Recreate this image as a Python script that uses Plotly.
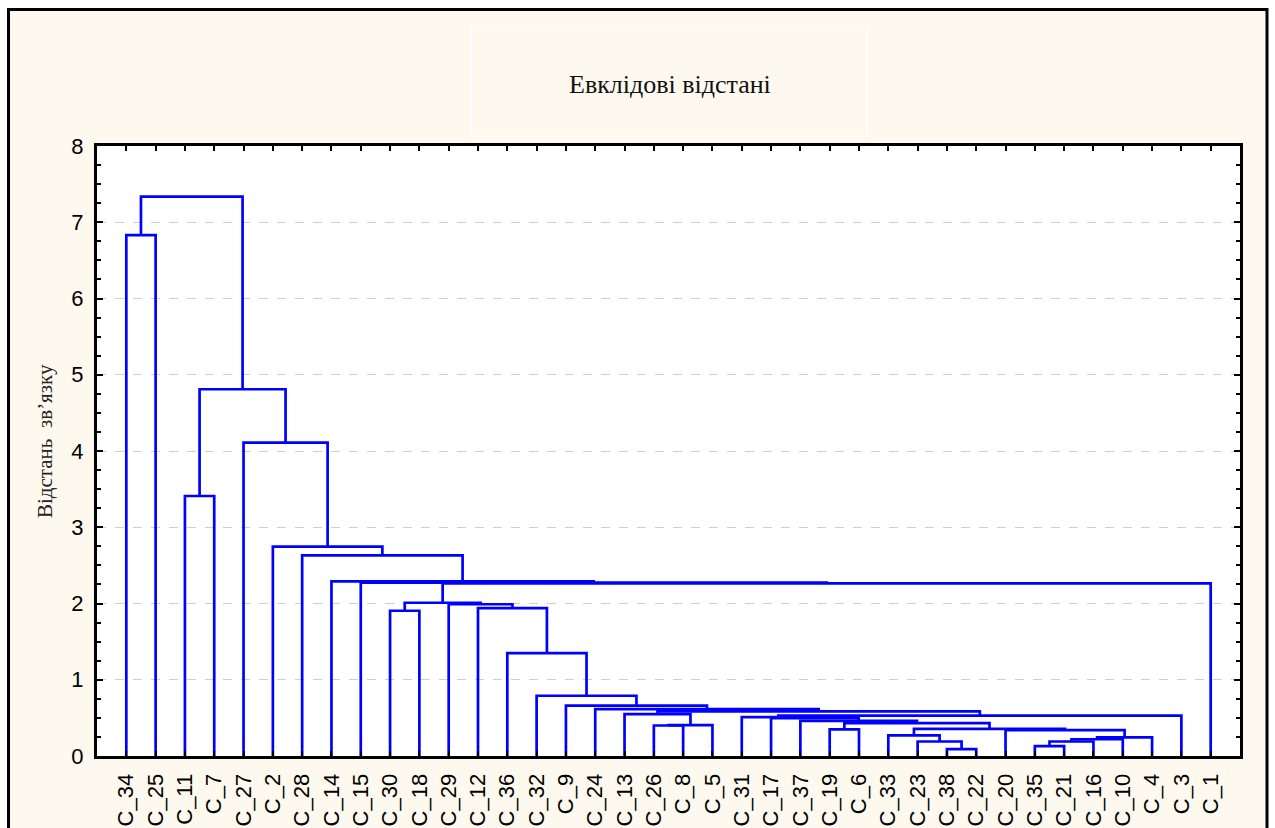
import plotly.graph_objects as go

# ---- data ----
leaf_labels = ["C_34", "C_25", "C_11", "C_7", "C_27", "C_2", "C_28", "C_14", "C_15",
               "C_30", "C_18", "C_29", "C_12", "C_36", "C_32", "C_9", "C_24", "C_13",
               "C_26", "C_8", "C_5", "C_31", "C_17", "C_37", "C_19", "C_6", "C_33",
               "C_23", "C_38", "C_22", "C_20", "C_35", "C_21", "C_16", "C_10", "C_4",
               "C_3", "C_1"]

# merges: children are leaf names or "#k" (k-th merge, 1-based)
merge_left = ["C_35", "#1", "#2", "#3", "C_20", "C_38", "C_23", "C_33", "#8", "C_19",
              "#10", "C_37", "C_17", "C_31", "#14", "C_26", "#16", "C_13", "#18", "C_24",
              "C_9", "C_32", "C_36", "C_12", "C_29", "C_30", "#26", "#27", "C_15", "C_14",
              "C_28", "C_2", "C_27", "C_11", "#34", "C_34", "#36"]
merge_right = ["C_21", "C_16", "C_10", "C_4", "#4", "C_22", "#6", "#7", "#5", "C_6",
               "#9", "#11", "#12", "#13", "C_3", "C_8", "C_5", "#17", "#15", "#19",
               "#20", "#21", "#22", "#23", "#24", "C_18", "#25", "C_1", "#28", "#29",
               "#30", "#31", "#32", "C_7", "#33", "C_25", "#35"]
merge_height = [0.13, 0.19, 0.22, 0.245, 0.34, 0.09, 0.19, 0.27, 0.355, 0.35,
                0.43, 0.46, 0.495, 0.51, 0.53, 0.40, 0.405, 0.55, 0.585, 0.615,
                0.66, 0.79, 1.35, 1.94, 1.99, 1.905, 2.01, 2.265, 2.275, 2.29,
                2.63, 2.745, 4.11, 3.41, 4.81, 6.83, 7.335]

y_ticks = [0, 1, 2, 3, 4, 5, 6, 7, 8]
title_text = "Евклідові відстані"
y_title = "Відстань  зв’язку"

# ---- dendrogram geometry from the merge table ----
leaf_pos = {name: i + 1 for i, name in enumerate(leaf_labels)}
node_x, node_h = {}, {}
for name, p in leaf_pos.items():
    node_x[name] = p
    node_h[name] = 0.0

xs, ys = [], []
for k, (a, b, h) in enumerate(zip(merge_left, merge_right, merge_height), start=1):
    xa, xb = node_x[a], node_x[b]
    xs += [xa, xa, xb, xb, None]
    ys += [node_h[a], h, h, node_h[b], None]
    node_x["#%d" % k] = (xa + xb) / 2
    node_h["#%d" % k] = h

W, H = 1275, 828
L, R, T, B = 97, 35, 146, 72
pw, ph = W - L - R, H - T - B


def px(x):
    return (x - L) / pw


def py(y):
    return (H - B - y) / ph


fig = go.Figure()
fig.add_trace(go.Scatter(x=xs, y=ys, mode="lines",
                         line=dict(color="#0000ff", width=2.7),
                         hoverinfo="skip", showlegend=False))

cream = "#fdf9ee"
fig.update_layout(
    width=W, height=H,
    margin=dict(l=L, r=R, t=T, b=B, pad=0),
    paper_bgcolor="white",
    plot_bgcolor="white",
    showlegend=False,
    shapes=[
        dict(type="rect", xref="paper", yref="paper", layer="below",
             x0=px(8.5), x1=px(1267), y0=py(860), y1=py(9.5),
             fillcolor=cream, line=dict(color="black", width=3)),
        dict(type="rect", xref="paper", yref="paper", layer="below",
             x0=0, x1=1, y0=0, y1=1,
             fillcolor="white", line=dict(width=0)),
        dict(type="rect", xref="paper", yref="paper", layer="below",
             x0=px(471), x1=px(867), y0=py(136), y1=py(26),
             fillcolor=cream, line=dict(color="white", width=1.2)),
    ],
    annotations=[
        dict(text=title_text, xref="paper", yref="paper", x=px(670), y=py(85),
             showarrow=False, xanchor="center", yanchor="middle",
             font=dict(family="Liberation Serif, Times New Roman, serif", size=26, color="#111")),
        dict(text=y_title, xref="paper", yref="paper", x=px(45), y=py(441),
             showarrow=False, xanchor="center", yanchor="middle", textangle=-90,
             font=dict(family="Liberation Serif, Times New Roman, serif", size=21, color="#222")),
    ],
)

fig.update_xaxes(
    range=[0, len(leaf_labels) + 1],
    tickvals=list(range(1, len(leaf_labels) + 1)),
    ticktext=leaf_labels,
    tickangle=-90,
    ticks="inside", ticklen=5, tickwidth=2, tickcolor="black",
    showline=True, linecolor="black", linewidth=3, mirror="ticks",
    showgrid=False, zeroline=False,
    tickfont=dict(family="Liberation Sans, Arial, sans-serif", size=22, color="black"),
    ticklabelstandoff=6,
    automargin=False,
)
fig.update_yaxes(
    range=[0, 8],
    tickvals=y_ticks,
    ticks="inside", ticklen=6, tickwidth=2, tickcolor="black",
    minor=dict(dtick=0.25, ticks="inside", ticklen=4, tickwidth=2, tickcolor="black", showgrid=False),
    showline=True, linecolor="black", linewidth=3, mirror="ticks",
    showgrid=True, gridcolor="#cfcfcf", griddash="dash", gridwidth=1,
    zeroline=False,
    tickfont=dict(family="Liberation Sans, Arial, sans-serif", size=22, color="black"),
    ticklabelstandoff=6,
    automargin=False,
)

fig.write_html("out.html")
